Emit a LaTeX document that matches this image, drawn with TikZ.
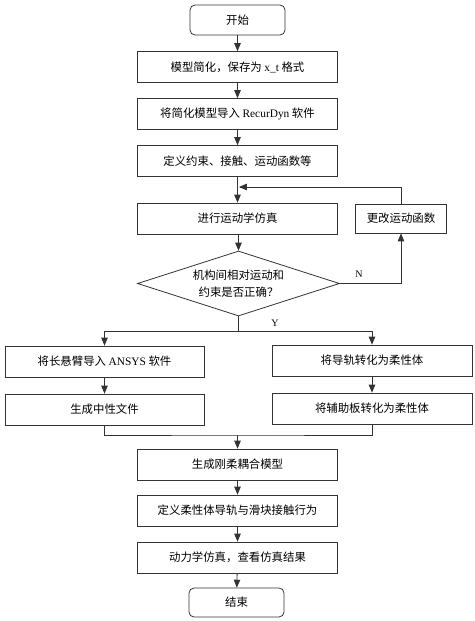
\documentclass[tikz,border=0pt]{standalone}
\usepackage{fontspec}
\setmainfont{Liberation Serif}
\newfontfamily\cjk{Noto Sans CJK SC}
\usepackage{tikz}
\usetikzlibrary{arrows, shapes.geometric}

\begin{document}
\begin{tikzpicture}[x=1pt, y=-1pt, line width=0.8pt,
	box/.style={draw=black!80, rectangle, minimum width=200pt, minimum height=31pt, inner sep=0pt, font=\cjk\fontsize{11.4}{17}\selectfont},
	term/.style={box, rounded corners=5pt, minimum width=95pt, minimum height=30pt},
	test/.style={draw=black!80, diamond, aspect=3.1, minimum width=202pt, minimum height=65pt, inner sep=0pt, align=center, font=\cjk\fontsize{11.4}{17}\selectfont},
	arr/.style={draw=black!80, -triangle 45},
	lnk/.style={draw=black!80}]
	\useasboundingbox (0,0) rectangle (474,621);
	% main column
	\node [term] (start) at (237.5,20) {开始};
	\node [box] (simp) at (237.5,67) {模型简化，保存为 {\rmfamily x\_t} 格式};
	\node [box] (imp) at (237.5,114) {将简化模型导入 {\rmfamily RecurDyn} 软件};
	\node [box] (def) at (237.5,161) {定义约束、接触、运动函数等};
	\node [box] (kin) at (237.5,218.5) {进行运动学仿真};
	\node [box, minimum width=91pt, minimum height=29pt] (chg) at (401,218.5) {更改运动函数};
	\node [test] (ok) at (238.5,283.5) {机构间相对运动和\\约束是否正确？};
	% two branches
	\node [box, minimum width=199pt] (ansys) at (104.5,361.5) {将长悬臂导入 {\rmfamily ANSYS} 软件};
	\node [box, minimum width=199pt] (mnf) at (104.5,409.5) {生成中性文件};
	\node [box] (rail) at (372,360.5) {将导轨转化为柔性体};
	\node [box] (plate) at (372,408.5) {将辅助板转化为柔性体};
	% lower column
	\node [box] (rf) at (237.5,464.5) {生成刚柔耦合模型};
	\node [box] (cont) at (237.5,510.5) {定义柔性体导轨与滑块接触行为};
	\node [box] (dyn) at (237.5,557.5) {动力学仿真，查看仿真结果};
	\node [term, minimum height=29pt] (stop) at (236.5,602.5) {结束};
	\coordinate (back) at (239,187);
	\coordinate (split) at (238.5,331);
	\coordinate (merge) at (237.5,435);

	\draw [arr] (start) -- (simp);
	\draw [arr] (simp) -- (imp);
	\draw [arr] (imp) -- (def);
	\draw [arr] (def) -- (kin);
	\draw [arr] (kin.south -| ok) -- (ok);
	\draw [arr] (ok.east) -| (chg.south);
	\draw [arr] (chg.north) |- (back);
	\draw [lnk] (ok.south) -- (split);
	\draw [arr] (split) -| (ansys.north);
	\draw [arr] (split) -| (rail.north);
	\draw [arr] (ansys) -- (mnf);
	\draw [arr] (rail) -- (plate);
	\draw [lnk] (mnf.south) |- (merge) -| (plate.south);
	\draw [arr] (merge) -- (rf);
	\draw [arr] (rf) -- (cont);
	\draw [arr] (cont) -- (dyn);
	\draw [arr] (dyn) -- (stop);
	\path (359,274) node (nlab) {N};
	\path (275,323) node (ylab) {Y};
\end{tikzpicture}
\end{document}
